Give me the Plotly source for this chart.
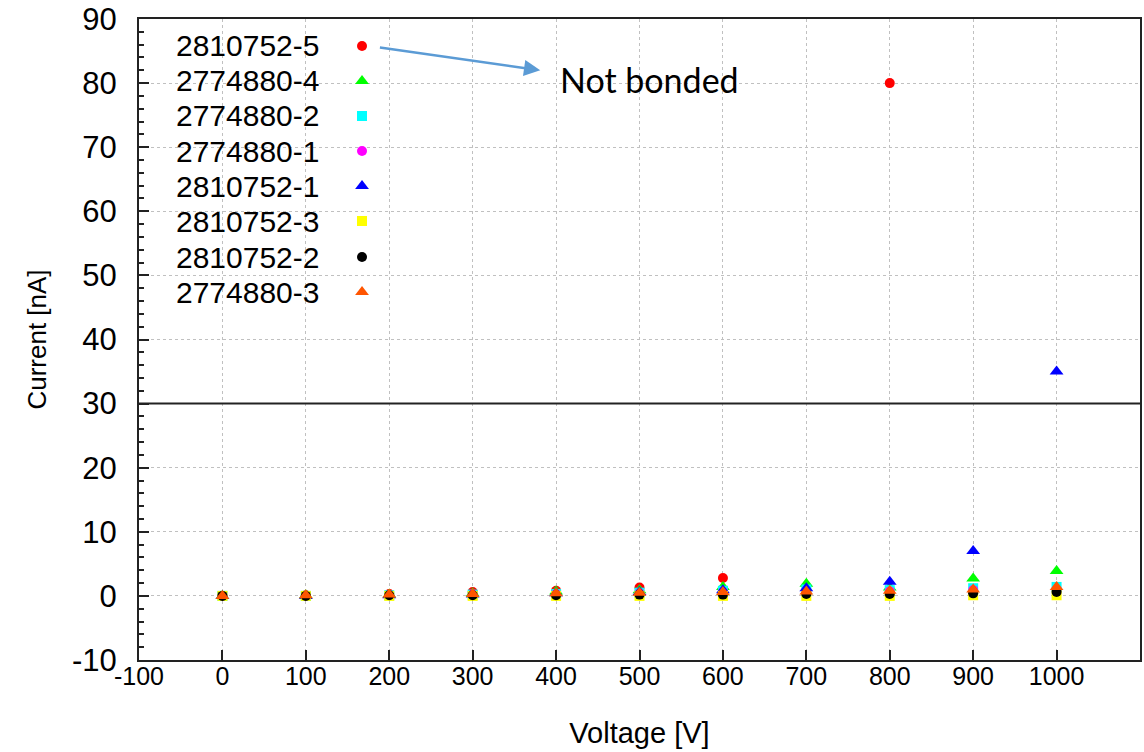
import plotly.graph_objects as go

voltage = [0, 100, 200, 300, 400, 500, 600, 700, 800, 900, 1000]

names = ["2810752-5", "2774880-4", "2774880-2", "2774880-1",
         "2810752-1", "2810752-3", "2810752-2", "2774880-3"]
colors = ["#ff0000", "#00ff00", "#00ffff", "#ff00ff",
          "#0000ff", "#ffff00", "#000000", "#ff5500"]
symbols = ["circle", "triangle-up", "square", "circle",
           "triangle-up", "square", "circle", "triangle-up"]

cur_2810752_5 = [0.0, 0.1, 0.3, 0.6, 0.8, 1.3, 2.8, None, 80.0, None, None]
cur_2774880_4 = [0.0, 0.1, 0.2, 0.4, 0.7, 0.9, 1.4, 1.9, 1.3, 2.7, 3.9]
cur_2774880_2 = [0.0, 0.0, 0.1, 0.2, 0.3, 0.5, 0.8, 1.0, 0.9, 1.2, 1.4]
cur_2774880_1 = [0.0, 0.0, 0.1, 0.2, 0.3, 0.4, 0.6, 0.7, 0.7, 0.9, 1.0]
cur_2810752_1 = [0.0, 0.0, 0.1, 0.2, 0.4, 0.6, 0.9, 1.2, 2.2, 7.0, 35.0]
cur_2810752_3 = [0.0, 0.0, 0.0, 0.0, 0.0, 0.0, 0.0, 0.0, 0.0, 0.1, 0.1]
cur_2810752_2 = [0.0, 0.0, 0.1, 0.1, 0.1, 0.2, 0.2, 0.3, 0.3, 0.4, 0.6]
cur_2774880_3 = [0.0, 0.1, 0.2, 0.3, 0.4, 0.5, 0.6, 0.7, 0.8, 1.0, 1.4]

series = [cur_2810752_5, cur_2774880_4, cur_2774880_2, cur_2774880_1,
          cur_2810752_1, cur_2810752_3, cur_2810752_2, cur_2774880_3]

xticks = [-100, 0, 100, 200, 300, 400, 500, 600, 700, 800, 900, 1000]
yticks = [-10, 0, 10, 20, 30, 40, 50, 60, 70, 80, 90]

fig = go.Figure()

def msize(sym):
    return 12 if sym == "triangle-up" else 10

for name, col, sym, vals in zip(names, colors, symbols, series):
    fig.add_trace(go.Scatter(
        x=voltage, y=vals, mode="markers", name=name,
        marker=dict(color=col, symbol=sym, size=msize(sym), line=dict(width=0)),
        showlegend=False, cliponaxis=False))

# custom legend (text left, symbol right) on an overlay 0..1 axis
leg_y_px = [46, 81, 116, 151, 186, 221, 257, 292]
top_px, bot_px = 19, 660
leg_y = [(bot_px - p) / (bot_px - top_px) for p in leg_y_px]
for name, col, sym, ly in zip(names, colors, symbols, leg_y):
    fig.add_trace(go.Scatter(
        x=[0.2228], y=[ly], mode="markers", xaxis="x2", yaxis="y2",
        marker=dict(color=col, symbol=sym, size=msize(sym), line=dict(width=0)),
        showlegend=False, hoverinfo="skip"))
    fig.add_annotation(x=0.1788, y=ly, xref="paper", yref="paper", xshift=3,
                       text=name, showarrow=False, xanchor="right", yanchor="middle",
                       font=dict(family="Liberation Sans", size=30, color="#000"))

# separator line at 30 nA
fig.add_shape(type="line", xref="paper", yref="y", x0=0, x1=1, y0=30, y1=30,
              line=dict(color="#222222", width=2))

# arrow + "Not bonded"
fig.add_annotation(x=381, y=82.0, ax=187, ay=85.6, xref="x", yref="y",
                   axref="x", ayref="y", text="", showarrow=True,
                   arrowhead=2, arrowsize=1.3, arrowwidth=2.5, arrowcolor="#5b9bd5")
fig.add_annotation(x=512, y=80.5, xref="x", yref="y", text="Not bonded",
                   showarrow=False, xanchor="center", yanchor="middle",
                   font=dict(family="Lato", size=34, color="#000"))

fig.update_layout(
    width=1144, height=752,
    margin=dict(l=139, r=4, t=19, b=92),
    paper_bgcolor="white", plot_bgcolor="white",
    showlegend=False,
    xaxis=dict(range=[-100, 1100], tickvals=xticks, ticktext=[str(v) for v in xticks],
               automargin=False,
               showgrid=True, gridcolor="#c0c0c0", griddash="dot", gridwidth=1,
               showline=True, linecolor="#222", linewidth=2, mirror=True,
               ticks="inside", ticklen=10, tickcolor="#222", tickwidth=1.5,
               zeroline=False, ticklabelstandoff=-7,
               tickfont=dict(family="Liberation Sans", size=25, color="#000"),
               title=dict(text="Voltage [V]", font=dict(family="Liberation Sans", size=29, color="#000"),
                          standoff=34)),
    yaxis=dict(range=[-10, 90], tickvals=yticks, ticktext=[str(v) for v in yticks],
               automargin=False,
               showgrid=True, gridcolor="#c0c0c0", griddash="dot", gridwidth=1,
               showline=True, linecolor="#222", linewidth=2, mirror=True,
               ticks="inside", ticklen=10, tickcolor="#222", tickwidth=1.5,
               minor=dict(dtick=2, ticks="inside", ticklen=5, tickcolor="#222", showgrid=False),
               zeroline=False, ticklabelstandoff=14,
               tickfont=dict(family="Liberation Sans", size=31, color="#000"),
               title=dict(text="Current [nA]", font=dict(family="Liberation Sans", size=26, color="#000"),
                          standoff=18)),
    xaxis2=dict(range=[0, 1], overlaying="x", visible=False, fixedrange=True),
    yaxis2=dict(range=[0, 1], overlaying="y", visible=False, fixedrange=True),
)

fig.write_html("out.html", config={"displayModeBar": False},
               post_script="document.body.style.margin='0';document.body.style.overflow='hidden';")
